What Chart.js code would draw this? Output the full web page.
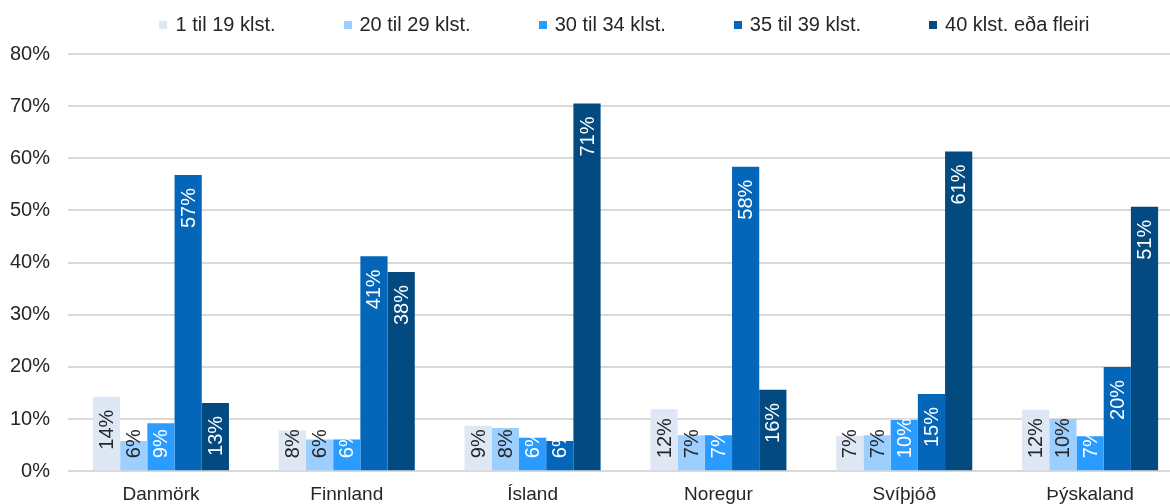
<!DOCTYPE html>
<html>
<head>
<meta charset="utf-8">
<script src="https://cdn.jsdelivr.net/npm/chart.js@4.4.0/dist/chart.umd.min.js"></script>
<style>
  body { margin: 0; overflow: hidden; background: #fff; font-family: "Liberation Sans", Arial, sans-serif; }
  #wrap { position: relative; width: 1183px; height: 504px; }
  #legend { position: absolute; left: 66px; top: 13px; width: 1117px; display: flex; justify-content: center; gap: 68px; font-size: 20px; color: #262626; }
  .item { display: flex; align-items: center; white-space: nowrap; }
  .box { width: 8px; height: 8px; margin-right: 8px; }
</style>
</head>
<body>
<div id="wrap">
  <div id="legend"></div>
  <canvas id="chart" width="1183" height="504"></canvas>
</div>
<script>
var countries = ["Danmörk", "Finnland", "Ísland", "Noregur", "Svíþjóð", "Þýskaland"];
var seriesNames = ["1 til 19 klst.", "20 til 29 klst.", "30 til 34 klst.", "35 til 39 klst.", "40 klst. eða fleiri"];
var colors = ["#dde8f4", "#9ccfff", "#2b9cff", "#0466b8", "#024a80"];
var labelColors = ["#262626", "#262626", "#ffffff", "#ffffff", "#ffffff"];

var hours1to19 = [14.3, 7.8, 8.7, 11.9, 6.8, 11.8];
var hours20to29 = [5.8, 6.1, 8.3, 6.9, 6.9, 10.0];
var hours30to34 = [9.2, 6.1, 6.4, 6.9, 9.8, 6.7];
var hours35to39 = [56.8, 41.2, 5.8, 58.4, 14.8, 20.0];
var hours40plus = [13.1, 38.2, 70.5, 15.6, 61.3, 50.7];

var yTicks = [0, 10, 20, 30, 40, 50, 60, 70, 80];

var allSeries = [hours1to19, hours20to29, hours30to34, hours35to39, hours40plus];

// legend (html)
var legendDiv = document.getElementById("legend");
for (let i = 0; i < seriesNames.length; i++) {
    var item = document.createElement("div");
    item.className = "item";
    item.innerHTML = '<span class="box" style="background:' + colors[i] + '"></span>' + seriesNames[i];
    legendDiv.appendChild(item);
}

var datasets = [];
for (let i = 0; i < allSeries.length; i++) {
    datasets.push({
        label: seriesNames[i],
        data: allSeries[i],
        backgroundColor: colors[i],
        borderWidth: 0,
        categoryPercentage: 0.732,
        barPercentage: 1.0
    });
}

// rotated labels, "inside end" like the original
var barLabels = {
    id: "barLabels",
    afterDatasetsDraw: function(chart) {
        var ctx = chart.ctx;
        var axisY = chart.scales.y.getPixelForValue(0);
        ctx.save();
        ctx.font = '20px "Liberation Sans", Arial, sans-serif';
        ctx.textAlign = "right";
        ctx.textBaseline = "middle";
        chart.data.datasets.forEach(function(ds, i) {
            var meta = chart.getDatasetMeta(i);
            meta.data.forEach(function(bar, j) {
                var text = Math.round(ds.data[j]) + "%";
                var len = ctx.measureText(text).width;
                var top = bar.y + 13;
                if (top + len > axisY - 13) {
                    top = axisY - 13 - len;
                }
                ctx.save();
                ctx.translate(bar.x, top);
                ctx.rotate(-Math.PI / 2);
                ctx.fillStyle = labelColors[i];
                ctx.fillText(text, 0, 1);
                ctx.restore();
            });
        });
        ctx.restore();
    }
};

var ctx = document.getElementById("chart").getContext("2d");
var chart = new Chart(ctx, {
    type: "bar",
    data: {
        labels: countries,
        datasets: datasets
    },
    options: {
        responsive: false,
        animation: false,
        layout: { padding: { top: 54, left: -8, right: 0, bottom: -14 } },
        plugins: {
            legend: { display: false },
            tooltip: { enabled: false }
        },
        scales: {
            x: {
                grid: { display: false, drawTicks: false },
                border: { display: false },
                ticks: {
                    color: "#262626",
                    padding: 12,
                    font: { family: '"Liberation Sans", Arial, sans-serif', size: 19 }
                }
            },
            y: {
                min: 0,
                max: 80,
                afterBuildTicks: function(axis) {
                    axis.ticks = yTicks.map(function(v) { return { value: v }; });
                },
                grid: { color: "#d9d9d9", lineWidth: 2, drawTicks: false },
                border: { display: false },
                ticks: {
                    color: "#262626",
                    padding: 18,
                    font: { family: '"Liberation Sans", Arial, sans-serif', size: 20 },
                    callback: function(v) { return v + "%"; }
                }
            }
        }
    },
    plugins: [barLabels]
});
</script>
</body>
</html>
